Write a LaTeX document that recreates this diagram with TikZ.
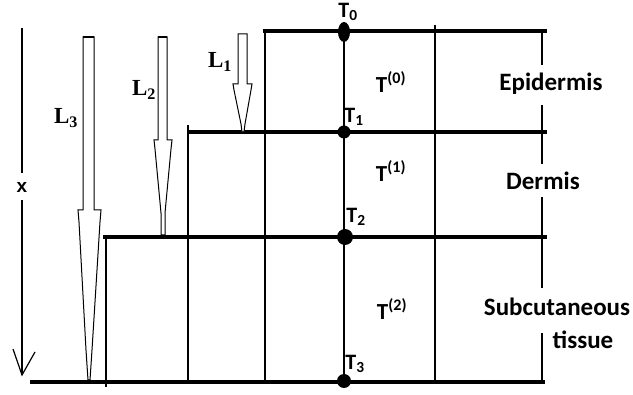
\documentclass[tikz,border=0pt]{standalone}
\usepackage{fontspec}
\usetikzlibrary{shapes.geometric}
\setmainfont{Carlito}
\newfontfamily\serifL{Liberation Serif}
\newfontfamily\sansX{Liberation Sans}
\begin{document}
\begin{tikzpicture}[x=1pt,y=-1pt,
  thickline/.style={line width=4.2pt},
  thinline/.style={line width=1.2pt},
  sideline/.style={line width=2.8pt},
  dotnode/.style={circle,fill=black,inner sep=0pt},
  layerlbl/.style={font=\fontsize{25}{27}\selectfont\bfseries,inner sep=0pt},
  tlbl/.style={font=\fontsize{22}{24}\selectfont\bfseries,inner sep=0pt},
  slbl/.style={font=\fontsize{23}{25}\selectfont\bfseries,inner sep=0pt},
  llbl/.style={font=\serifL\fontsize{23}{25}\selectfont\bfseries,inner sep=0pt},
  penarrow/.style={draw=black,line width=1pt,fill=white,line join=miter}]
\useasboundingbox (0,0) rectangle (633,395);

% coordinates
\coordinate (h0a) at (263,31);  \coordinate (h0b) at (547,31);
\coordinate (h1a) at (187,132); \coordinate (h1b) at (547,132);
\coordinate (h2a) at (103,237); \coordinate (h2b) at (547,237);
\coordinate (h3a) at (30,382);  \coordinate (h3b) at (545,382);
\coordinate (v1a) at (106,237); \coordinate (v1b) at (106,387);
\coordinate (v2a) at (188,125); \coordinate (v2b) at (188,382);
\coordinate (v3a) at (265,30);  \coordinate (v3b) at (265,382);
\coordinate (v4a) at (344,31);  \coordinate (v4b) at (344,382);
\coordinate (v5a) at (435,25);  \coordinate (v5b) at (435,382);
\coordinate (r0) at (542,31);  \coordinate (r1) at (542,65);
\coordinate (r2) at (542,105); \coordinate (r3) at (542,164);
\coordinate (r4) at (542,197); \coordinate (r5) at (542,288);
\coordinate (r6) at (542,333); \coordinate (r7) at (542,382);
\coordinate (xa) at (22,28);   \coordinate (xb) at (22,173);
\coordinate (xc) at (22,200);  \coordinate (xd) at (22,375);
\coordinate (xl) at (13,349);  \coordinate (xr) at (35,352);

% thin verticals
\draw[thinline] (v1a) -- (v1b);
\draw[thinline] (v2a) -- (v2b);
\draw[thinline] (v3a) -- (v3b);
\draw[thinline] (v4a) -- (v4b);
\draw[thinline] (v5a) -- (v5b);

% thick horizontals
\draw[thickline] (h0a) -- (h0b);
\draw[thickline] (h1a) -- (h1b);
\draw[thickline] (h2a) -- (h2b);
\draw[thickline] (h3a) -- (h3b);

% right side line
\draw[sideline] (r0) -- (r1);
\draw[sideline] (r2) -- (r3);
\draw[sideline] (r4) -- (r5);
\draw[sideline] (r6) -- (r7);

% x axis arrow
\draw[thinline] (xa) -- (xb);
\draw[thinline] (xc) -- (xd);
\draw[thinline] (xl) -- (xd) -- (xr);
\node[font=\sansX\fontsize{19}{20}\selectfont\bfseries,inner sep=0pt] (xlab) at (22,187) {x};

% pen arrows L1, L2, L3
\draw[penarrow] (238,34) -- (247,34) -- (247,84) -- (252,84) -- (251,90)
  -- (245,124) -- (244,132) -- (242,132) -- (241,124) -- (234,90) -- (233,84)
  -- (238,84) -- cycle;
\draw[penarrow] (158,37) -- (167,37) -- (167,140) -- (172,140) -- (171,149)
  -- (165,213) -- (165,235) -- (161,235) -- (161,213) -- (155,149) -- (154,140)
  -- (158,140) -- cycle;
\draw[penarrow] (83,37) -- (94,37) -- (94,210) -- (101,210) -- (100,222)
  -- (92,350) -- (90,380) -- (88,380) -- (86,350) -- (79,222) -- (78,210)
  -- (83,210) -- cycle;
\draw[line width=2.5pt] (83,37) -- (94,37);
\draw[line width=2.5pt] (158,37) -- (167,37);

\node[llbl] (L1) at (220,62) {L\textsubscript{1}};
\node[llbl] (L2) at (144,90) {L\textsubscript{2}};
\node[llbl] (L3) at (66,118) {L\textsubscript{3}};

% dots
\node[fill=black,inner sep=0pt,ellipse,minimum width=12pt,minimum height=20pt] (d0) at (344,32) {};
\node[dotnode,minimum size=13pt] (d1) at (344,132) {};
\node[dotnode,minimum size=16pt] (d2) at (345,237) {};
\node[dotnode,minimum size=14pt] (d3) at (344,381) {};

% T labels
\node[tlbl] (t0) at (348,12) {T\textsubscript{0}};
\node[tlbl] (t1) at (354,117) {T\textsubscript{1}};
\node[tlbl] (t2) at (356,217) {T\textsubscript{2}};
\node[tlbl] (t3) at (355,364) {T\textsubscript{3}};

\node[slbl] (s0) at (391,82) {T\textsuperscript{(0)}};
\node[slbl] (s1) at (391,171) {T\textsuperscript{(1)}};
\node[slbl] (s2) at (392,309) {T\textsuperscript{(2)}};

% layer labels
\node[layerlbl] (epi) at (551,84) {Epidermis};
\node[layerlbl] (der) at (543,181) {Dermis};
\node[layerlbl] (sub) at (557,307) {Subcutaneous};
\node[layerlbl] (tis) at (583,340) {tissue};
\end{tikzpicture}
\end{document}
